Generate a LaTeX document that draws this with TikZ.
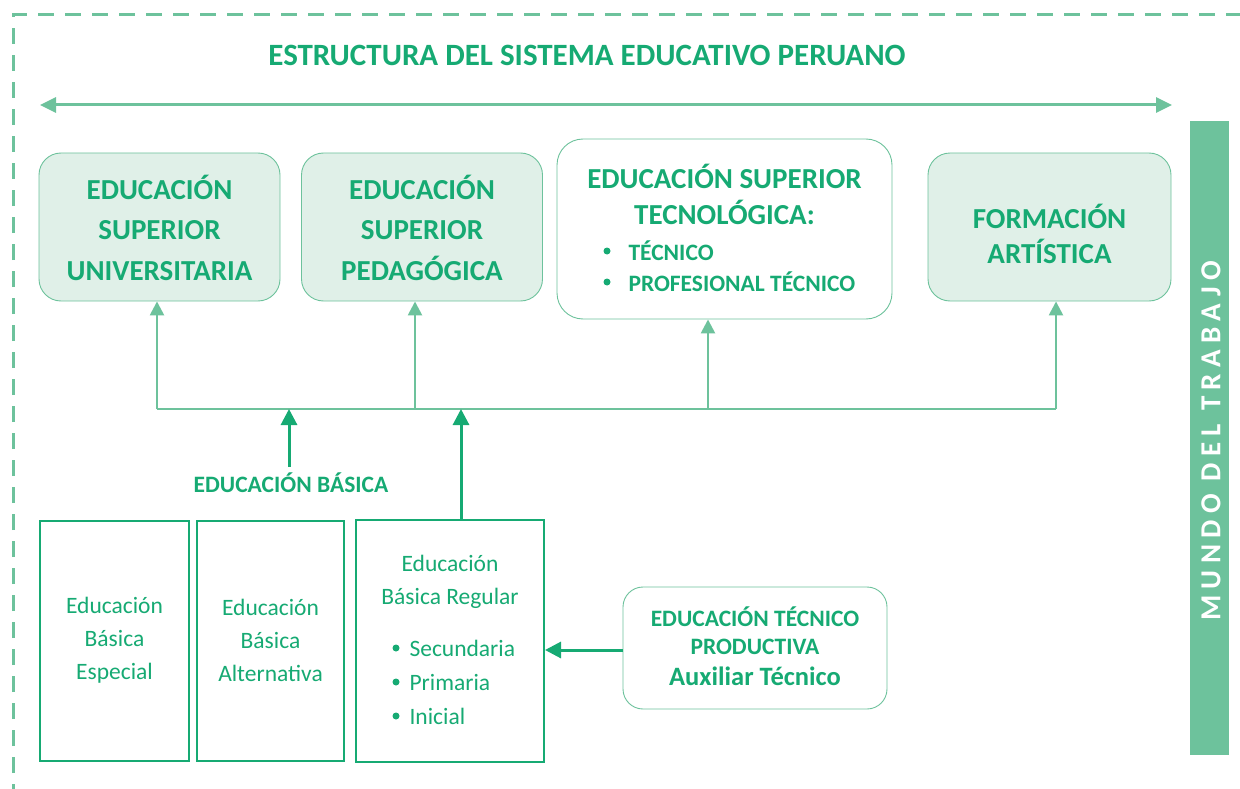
\documentclass[tikz,border=0pt]{standalone}
\usepackage{fontspec}
\setmainfont{Carlito}
\usetikzlibrary{arrows.meta}
\definecolor{dg}{HTML}{16AA73}
\definecolor{lg}{HTML}{6DC29C}
\definecolor{lf}{HTML}{E0F0E8}
\begin{document}
\begin{tikzpicture}[x=1pt,y=-1pt,
  supbox/.style={draw=lg, line width=0.9pt, fill=lf, rounded corners=22pt, minimum width=241pt, minimum height=148pt},
  whitebox/.style={draw=lg, line width=0.9pt, fill=white, rounded corners=26pt},
  basebox/.style={draw=dg, line width=2pt, fill=white, minimum height=240pt},
  headtxt/.style={text=dg, align=center, font=\fontsize{29}{40.5}\selectfont\bfseries},
  smalltxt/.style={text=dg, align=center, font=\fontsize{23.5}{33}\selectfont},
  lgline/.style={draw=lg, line width=2.5pt},
  lgarrow/.style={lgline, -{Triangle[length=14pt,width=14pt]}},
  dgarrow/.style={draw=dg, line width=3pt, -{Triangle[length=16pt,width=16pt]}}
]
\useasboundingbox (0,0) rectangle (1240,789);
% dashed frame
\draw[lg, line width=3pt, dash pattern=on 16pt off 11pt] (13,800) -- (13,15) -- (1260,15);
% title
\node[text=dg, font=\fontsize{31}{36}\selectfont\bfseries] (title) at (587,55) {ESTRUCTURA DEL SISTEMA EDUCATIVO PERUANO};
% double arrow
\coordinate (al) at (40,105);
\coordinate (ar) at (1172,105);
\draw[lg, line width=3pt, {Triangle[length=16pt,width=15pt]}-{Triangle[length=16pt,width=15pt]}] (al) -- (ar);
% top boxes
\node[supbox] (b1) at (159.5,227) {};
\node[headtxt] (t1) at (159.5,227.5) {EDUCACIÓN\\SUPERIOR\\UNIVERSITARIA};
\node[supbox] (b2) at (422,227) {};
\node[headtxt] (t2) at (422,227.5) {EDUCACIÓN\\SUPERIOR\\PEDAGÓGICA};
\node[whitebox, minimum width=335pt, minimum height=180pt] (b3) at (724.5,229) {};
\node[headtxt, font=\fontsize{29}{36}\selectfont\bfseries] (t3) at (724.5,194) {EDUCACIÓN SUPERIOR\\TECNOLÓGICA:};
\node[text=dg, font=\fontsize{23.5}{26}\selectfont\bfseries, anchor=west] (t3a) at (625,251) {TÉCNICO};
\node[text=dg, font=\fontsize{23.5}{26}\selectfont\bfseries, anchor=west] (t3b) at (625,282) {PROFESIONAL TÉCNICO};
\fill[dg] (607,251) circle (3.5pt) (607,282) circle (3.5pt);
\node[supbox, minimum width=243pt] (b4) at (1049.5,227) {};
\node[headtxt, font=\fontsize{29}{35}\selectfont\bfseries] (t4) at (1049.5,233.5) {FORMACIÓN\\ARTÍSTICA};
% mundo del trabajo
\node[fill=lg, draw=lg, minimum width=38pt, minimum height=633pt, inner sep=0pt] (mt) at (1209,437.5) {};
\node[rotate=90, text=white, font=\fontsize{29}{30}\selectfont\bfseries\addfontfeature{LetterSpace=22}] (mtt) at (1211,441) {MUNDO DEL TRABAJO};
% junction
\coordinate (j1) at (157,409);
\coordinate (j2) at (415,409);
\coordinate (j3) at (708,409);
\coordinate (j4) at (1056,409);
\coordinate (je) at (289,409);
\coordinate (jr) at (461,409);
\draw[lgline] (j1) -- (j4);
\draw[lgarrow] (j1) -- (j1 |- b1.south);
\draw[lgarrow] (j2) -- (j2 |- b2.south);
\draw[lgarrow] (j3) -- (j3 |- b3.south);
\draw[lgarrow] (j4) -- (j4 |- b4.south);
% educacion basica
\node[text=dg, font=\fontsize{23.5}{26}\selectfont\bfseries] (eb) at (291,483) {EDUCACIÓN BÁSICA};
\coordinate (ebs) at (289,467);
\draw[dgarrow] (ebs) -- (je);
% bottom boxes
\node[basebox, minimum width=149pt] (ebe) at (114.5,641) {};
\node[smalltxt] (tebe) at (114.5,640) {Educación\\Básica\\Especial};
\node[basebox, minimum width=147pt] (eba) at (270.5,641) {};
\node[smalltxt] (teba) at (270.5,640) {Educación\\Básica\\Alternativa};
\node[basebox, minimum width=188pt, minimum height=242pt] (ebr) at (450,641) {};
\node[smalltxt] (tebr) at (450,581.5) {Educación\\Básica Regular};
\node[text=dg, font=\fontsize{23.5}{34}\selectfont, anchor=west] (s1) at (406,648) {Secundaria};
\node[text=dg, font=\fontsize{23.5}{34}\selectfont, anchor=west] (s2) at (406,682) {Primaria};
\node[text=dg, font=\fontsize{23.5}{34}\selectfont, anchor=west] (s3) at (406,716) {Inicial};
\fill[dg] (396,648) circle (3.5pt) (396,682) circle (3.5pt) (396,716) circle (3.5pt);
\draw[dgarrow] (ebr.north -| jr) -- (jr);
% ETP
\node[whitebox, rounded corners=20pt, minimum width=264pt, minimum height=122pt] (etp) at (755,648) {};
\node[text=dg, align=center, font=\fontsize{23.5}{28}\selectfont\bfseries] (tetp) at (755,631) {EDUCACIÓN TÉCNICO\\PRODUCTIVA};
\node[text=dg, font=\fontsize{26.5}{28}\selectfont\bfseries] (tetp2) at (755,676) {Auxiliar Técnico};
\coordinate (ew) at (623,650);
\draw[dgarrow] (ew) -- (ew -| ebr.east);
\end{tikzpicture}
\end{document}
